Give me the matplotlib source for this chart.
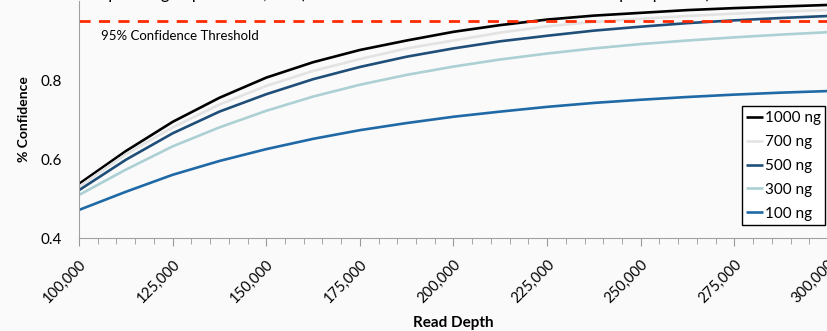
import matplotlib
matplotlib.use("Agg")
import matplotlib.pyplot as plt
from matplotlib.ticker import MultipleLocator, FixedLocator, FuncFormatter

plt.rcParams['font.family'] = ['Lato', 'DejaVu Sans']

# read depth sampled every 12,500 reads
depth = [100000, 112500, 125000, 137500, 150000, 162500, 175000, 187500, 200000,
         212500, 225000, 237500, 250000, 262500, 275000, 287500, 300000]

conf_1000 = [0.537, 0.620, 0.694, 0.755, 0.806, 0.845, 0.876, 0.900, 0.922,
             0.939, 0.953, 0.963, 0.970, 0.977, 0.982, 0.986, 0.990]
conf_700 = [0.530, 0.612, 0.680, 0.738, 0.785, 0.823, 0.853, 0.880, 0.900,
            0.920, 0.936, 0.947, 0.955, 0.962, 0.968, 0.973, 0.977]
conf_500 = [0.521, 0.598, 0.665, 0.720, 0.764, 0.802, 0.833, 0.859, 0.880,
            0.898, 0.912, 0.925, 0.935, 0.944, 0.951, 0.957, 0.962]
conf_300 = [0.509, 0.573, 0.632, 0.680, 0.722, 0.758, 0.788, 0.813, 0.834,
            0.852, 0.867, 0.880, 0.891, 0.900, 0.908, 0.915, 0.921]
conf_100 = [0.471, 0.517, 0.560, 0.595, 0.625, 0.651, 0.673, 0.691, 0.707,
            0.720, 0.732, 0.742, 0.750, 0.757, 0.763, 0.768, 0.772]

series = [("1000 ng", conf_1000, "#000000"),
          ("700 ng", conf_700, "#e3e3e3"),
          ("500 ng", conf_500, "#1f4e79"),
          ("300 ng", conf_300, "#acd0d3"),
          ("100 ng", conf_100, "#1f69a6")]

y_ticks = [0.4, 0.6, 0.8]
threshold = 0.95
title = "Sequencing depth = 179,000 (the minimum to detect mutations in all samples per run)"

bg = "#fafafa"
fig = plt.figure(figsize=(8.28, 3.31), dpi=100, facecolor=bg)
ax = fig.add_axes([79/828, 93/331, 749/828, 237/331], facecolor=bg)

for name, vals, col in series:
    ax.plot(depth, vals, color=col, lw=1.9, label=name, solid_capstyle='butt')

ax.axhline(threshold, color="#ff2a00", lw=2, ls=(0, (4, 3)))
ax.text(100000 + 6000, 0.911, "95% Confidence Threshold", fontsize=9.5, va='center', ha='left')

ax.set_xlim(100000, 300000)
ax.set_ylim(0.4, 1.0)
ax.xaxis.set_major_locator(MultipleLocator(25000))
ax.xaxis.set_minor_locator(MultipleLocator(5000))
ax.xaxis.set_major_formatter(FuncFormatter(lambda v, p: f"{int(v):,}"))
ax.yaxis.set_major_locator(FixedLocator(y_ticks))
ax.yaxis.set_major_formatter(FuncFormatter(lambda v, p: f"{v:.1f}"))

for lab in ax.get_xticklabels():
    lab.set_rotation(45)
    lab.set_ha('right')
    lab.set_rotation_mode('anchor')

ax.tick_params(axis='x', which='major', length=6, color="#999999", labelsize=10.5, pad=8)
ax.tick_params(axis='x', which='minor', length=4, color="#999999")
ax.tick_params(axis='y', length=0, labelsize=11, pad=12)

for s in ['top', 'right']:
    ax.spines[s].set_visible(False)
for s in ['left', 'bottom']:
    ax.spines[s].set_color("#a0a0a0")

ax.set_xlabel("Read Depth", fontsize=11, fontweight='bold', labelpad=0)
ax.set_ylabel("% Confidence", fontsize=10, fontweight='bold', labelpad=8)
ax.xaxis.set_label_coords(0.5, -0.33)

leg = ax.legend(loc='upper left', bbox_to_anchor=(0.885, 0.555), fontsize=11,
                frameon=True, fancybox=False, edgecolor='#000000', facecolor='#ffffff',
                framealpha=1, handlelength=1.1, handletextpad=0.1, borderpad=0.3,
                labelspacing=0.65, borderaxespad=0)
leg.get_frame().set_linewidth(1)

fig.text(0.48, 1 + 1/331, title, fontsize=12, ha='center', va='baseline')

fig.savefig("out.png", dpi=100, facecolor=bg)
